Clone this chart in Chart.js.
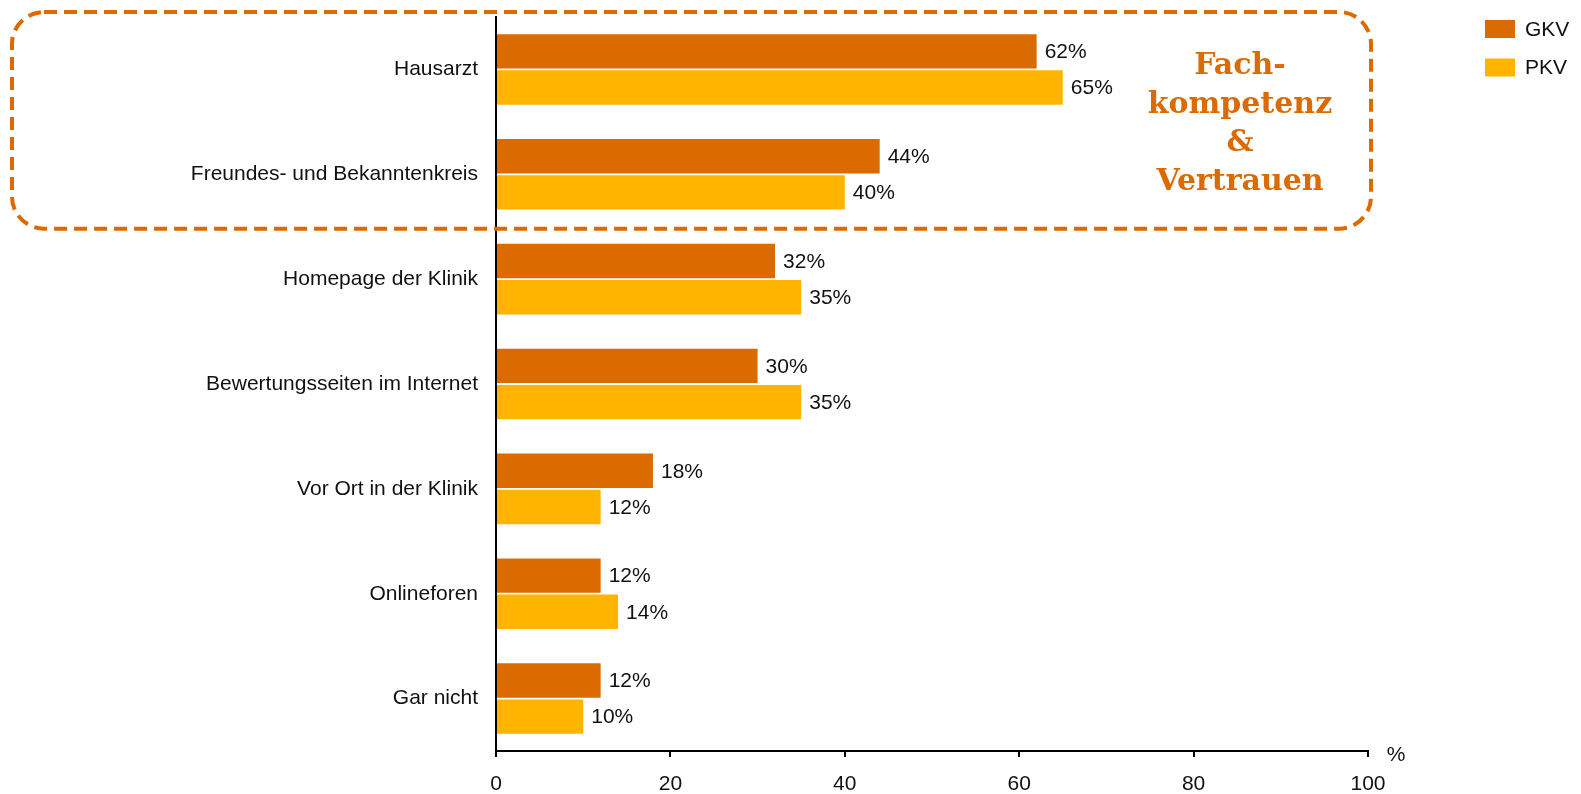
<!DOCTYPE html>
<html>
<head>
<meta charset="utf-8">
<script src="https://cdn.jsdelivr.net/npm/chart.js@4/dist/chart.umd.min.js"></script>
<style>
  html, body { margin: 0; padding: 0; background: #fff; }
  #wrap { width: 1581px; height: 794px; position: relative; }
</style>
</head>
<body>
<div id="wrap"><canvas id="c" width="1581" height="794"></canvas></div>
<script>
// Informationsquellen bei der Klinikwahl, nach Versicherungsart (in %)
const categories = [
  'Hausarzt',
  'Freundes- und Bekanntenkreis',
  'Homepage der Klinik',
  'Bewertungsseiten im Internet',
  'Vor Ort in der Klinik',
  'Onlineforen',
  'Gar nicht'
];
const gkvValues = [62, 44, 32, 30, 18, 12, 12];
const pkvValues = [65, 40, 35, 35, 12, 14, 10];
const seriesNames = ['GKV', 'PKV'];
const xTicks = [0, 20, 40, 60, 80, 100];
const axisUnit = '%';
const calloutLines = ['Fach-', 'kompetenz', '&', 'Vertrauen'];

const COL_GKV = '#DB6A00';
const COL_PKV = '#FFB400';
const FONT = '"Liberation Sans", Arial, sans-serif';
const TXT = '#111';
const FS = 21;

// Wertbeschriftungen rechts neben den Balken
const valueLabels = {
  id: 'valueLabels',
  afterDatasetsDraw(chart) {
    const ctx = chart.ctx;
    ctx.save();
    ctx.font = FS + 'px ' + FONT;
    ctx.fillStyle = TXT;
    ctx.textAlign = 'left';
    ctx.textBaseline = 'middle';
    chart.data.datasets.forEach((ds, i) => {
      chart.getDatasetMeta(i).data.forEach((bar, j) => {
        ctx.fillText(ds.data[j] + '%', bar.x + 8, bar.y + 1);
      });
    });
    ctx.restore();
  }
};

// Einheit am Achsenende, Legende und hervorgehobener Bereich
const extras = {
  id: 'extras',
  afterDraw(chart) {
    const ctx = chart.ctx;
    const xs = chart.scales.x;
    const ys = chart.scales.y;
    ctx.save();

    // Einheit "%"
    ctx.font = FS + 'px ' + FONT;
    ctx.fillStyle = TXT;
    ctx.textAlign = 'center';
    ctx.textBaseline = 'middle';
    ctx.fillText(axisUnit, xs.right + 28, xs.top + 4);

    // Legende
    const legendX = 1485;
    [COL_GKV, COL_PKV].forEach((col, i) => {
      const y = 20 + i * 38.5;
      ctx.fillStyle = col;
      ctx.fillRect(legendX, y, 30, 18);
      ctx.fillStyle = TXT;
      ctx.textAlign = 'left';
      ctx.font = FS + 'px ' + FONT;
      ctx.fillText(seriesNames[i], legendX + 40, y + 10);
    });

    // Gestrichelter Rahmen um die ersten beiden Kategorien
    const bandH = (ys.bottom - ys.top) / categories.length;
    const boxTop = 12, boxLeft = 12, boxRight = 1371;
    const boxBottom = ys.top + 2 * bandH + 2;
    ctx.strokeStyle = COL_GKV;
    ctx.lineWidth = 4;
    ctx.setLineDash([13, 7]);
    ctx.beginPath();
    ctx.roundRect(boxLeft, boxTop, boxRight - boxLeft, boxBottom - boxTop, 32);
    ctx.stroke();
    ctx.setLineDash([]);

    // Hinweistext
    ctx.fillStyle = COL_GKV;
    ctx.textAlign = 'center';
    ctx.textBaseline = 'middle';
    ctx.font = 'bold 30px "DejaVu Serif", "Liberation Serif", serif';
    const cx = 1240;
    calloutLines.forEach((t, i) => {
      ctx.fillText(t, cx, 66 + i * 38.8);
    });
    ctx.restore();
  }
};

new Chart(document.getElementById('c'), {
  type: 'bar',
  data: {
    labels: categories,
    datasets: [
      { label: seriesNames[0], data: gkvValues, backgroundColor: COL_GKV,
        categoryPercentage: 0.69, barPercentage: 0.95 },
      { label: seriesNames[1], data: pkvValues, backgroundColor: COL_PKV,
        categoryPercentage: 0.69, barPercentage: 0.95 }
    ]
  },
  options: {
    indexAxis: 'y',
    responsive: false,
    animation: false,
    devicePixelRatio: 1,
    layout: { padding: { left: 0, right: 213, top: 17, bottom: 0 } },
    plugins: {
      legend: { display: false },
      tooltip: { enabled: false }
    },
    scales: {
      x: {
        min: 0, max: 100,
        afterBuildTicks(scale) { scale.ticks = xTicks.map(v => ({ value: v })); },
        afterFit(scale) { scale.height = 43; scale.paddingLeft = 0; scale.paddingRight = 0; },
        border: { display: true, color: '#000', width: 2 },
        grid: { display: true, drawOnChartArea: false, drawTicks: true,
                tickLength: 6, color: '#000', lineWidth: 2 },
        ticks: { font: { family: FONT, size: FS }, color: TXT, padding: 15 }
      },
      y: {
        afterFit(scale) { scale.width = 496; scale.paddingTop = 0; scale.paddingBottom = 0; },
        border: { display: true, color: '#000', width: 2 },
        grid: { display: false, drawTicks: false },
        ticks: { font: { family: FONT, size: FS }, color: TXT, padding: 18 }
      }
    }
  },
  plugins: [valueLabels, extras]
});
</script>
</body>
</html>
